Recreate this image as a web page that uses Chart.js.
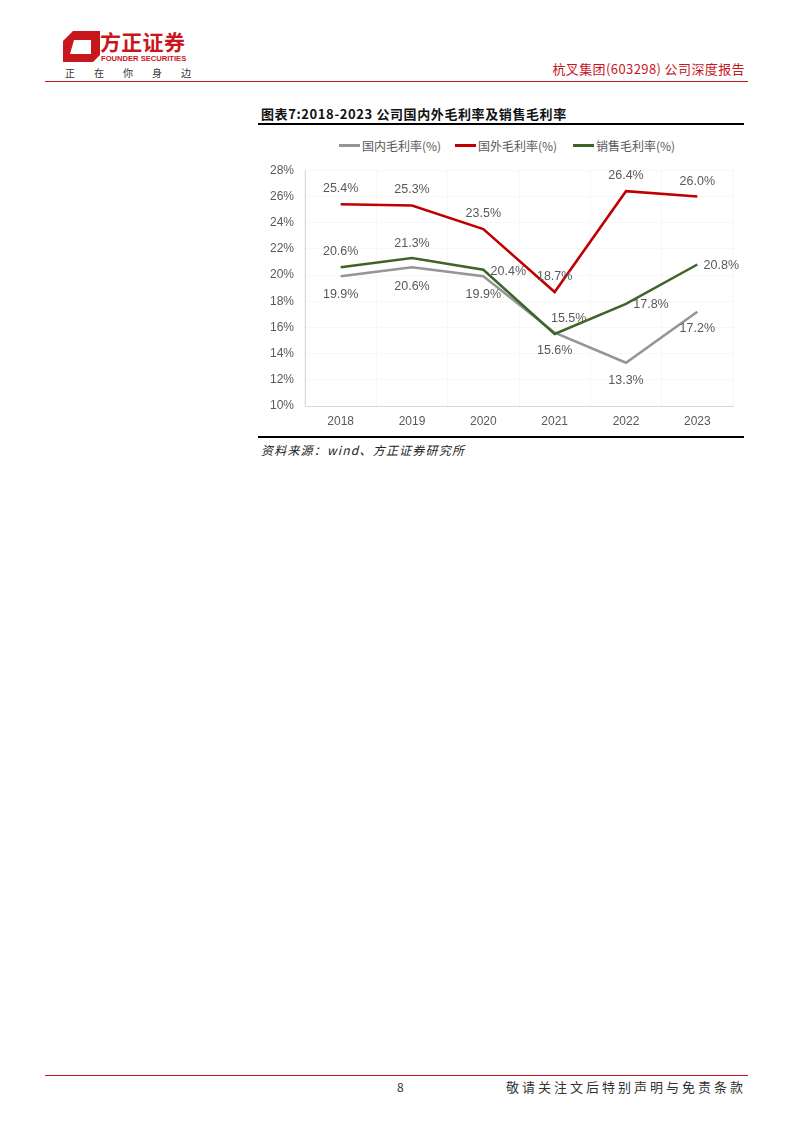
<!DOCTYPE html>
<html>
<head>
<meta charset="utf-8">
<script src="https://cdn.jsdelivr.net/npm/chart.js@4.4.1/dist/chart.umd.min.js"></script>
<style>
  body { margin: 0; background: #fff; font-family: "Noto Sans CJK SC", "Liberation Sans", sans-serif; }
  #page { position: relative; width: 794px; height: 1123px; overflow: hidden; }
  .abs { position: absolute; white-space: nowrap; }
  .lg { position: absolute; top: 137px; display: flex; align-items: center; font-size: 12px; color: #595959; }
  .lg span.sw { display: inline-block; width: 21px; height: 3px; margin-right: 2px; }
</style>
</head>
<body>
<div id="page">
  <!-- header -->
  <svg class="abs" style="left:60px;top:28px" width="44" height="38">
    <polygon points="13,3 40,3 40,27 33,34 3,34 3,13" fill="#c8161d"/>
    <polygon points="14,12 31,12 31,26 10,26" fill="#fff"/>
  </svg>
  <div class="abs" style="left:100px;top:31px;font-size:21px;line-height:21px;height:21px;font-weight:bold;color:#c8161d;letter-spacing:0.3px">方正证券</div>
  <div class="abs" style="left:101px;top:55px;font-size:7.6px;line-height:8px;font-weight:bold;color:#c8161d;font-family:'Liberation Sans'">FOUNDER SECURITIES</div>
  <div class="abs" style="left:65px;top:65px;font-size:10px;color:#333;letter-spacing:19px">正在你身边</div>
  <div class="abs" style="right:49px;top:59px;font-size:13px;color:#c8161d;letter-spacing:0.4px">杭叉集团(603298) 公司深度报告</div>
  <div class="abs" style="left:45px;top:81px;width:703px;height:1px;background:#c8161d"></div>

  <!-- figure title -->
  <div class="abs" style="left:261px;top:104px;font-size:13px;font-weight:bold;color:#111;letter-spacing:0.6px">图表7:2018-2023 公司国内外毛利率及销售毛利率</div>
  <div class="abs" style="left:258px;top:123px;width:486px;height:2px;background:#000"></div>

  <div id="legend"></div>
  <div class="abs" style="left:255px;top:152px;width:495px;height:283px">
    <canvas id="chart"></canvas>
  </div>

  <div class="abs" style="left:258px;top:436px;width:486px;height:2px;background:#000"></div>
  <div class="abs" style="left:261px;top:441px;font-size:12px;font-style:italic;color:#222;letter-spacing:1.2px">资料来源：wind、方正证券研究所</div>

  <!-- footer -->
  <div class="abs" style="left:45px;top:1075px;width:703px;height:1px;background:#c8161d"></div>
  <div class="abs" style="left:397px;top:1078px;font-size:12px;color:#333">8</div>
  <div class="abs" style="right:48px;top:1077px;font-size:13px;color:#333;letter-spacing:3px">敬请关注文后特别声明与免责条款</div>
</div>

<script>
// data
var years = ["2018", "2019", "2020", "2021", "2022", "2023"]
var domestic = [19.9, 20.6, 19.9, 15.6, 13.3, 17.2]
var overseas = [25.4, 25.3, 23.5, 18.7, 26.4, 26.0]
var sales = [20.6, 21.3, 20.4, 15.5, 17.8, 20.8]
var seriesNames = ["国内毛利率(%)", "国外毛利率(%)", "销售毛利率(%)"]
var yTicks = [10, 12, 14, 16, 18, 20, 22, 24, 26, 28]

var colors = ["#959595", "#c00000", "#3f6428"]
var legendLeft = [339, 455, 573]

// label offsets from each point [dx, dy]
var labelOffsets = [
    [[0, 18], [0, 19], [0, 18], [0, 18], [0, 18], [0, 17]],
    [[0, -16], [0, -16], [0, -16], [0, -15], [0, -16], [0, -15]],
    [[0, -16], [0, -14], [25, 2], [14, -15], [25, 1], [24, 1]]
]

// html legend
var legendDiv = document.getElementById("legend")
seriesNames.forEach(function (n, i) {
    var d = document.createElement("div")
    d.className = "lg"
    d.style.left = legendLeft[i] + "px"
    d.innerHTML = '<span class="sw" style="background:' + colors[i] + '"></span>' + n
    legendDiv.appendChild(d)
})

var valueLabels = {
    id: "valueLabels",
    afterDatasetsDraw: function (chart) {
        var ctx = chart.ctx
        ctx.save()
        ctx.font = "12.5px 'Liberation Sans'"
        ctx.fillStyle = "#595959"
        ctx.textAlign = "center"
        ctx.textBaseline = "middle"
        chart.data.datasets.forEach(function (ds, di) {
            var meta = chart.getDatasetMeta(di)
            meta.data.forEach(function (pt, i) {
                var off = labelOffsets[di][i]
                ctx.fillText(ds.data[i].toFixed(1) + "%", pt.x + off[0], pt.y + off[1])
            })
        })
        ctx.restore()
    }
}

function makeDs(i, data, order) {
    return {
        label: seriesNames[i],
        data: data,
        borderColor: colors[i],
        backgroundColor: colors[i],
        borderWidth: 2.5,
        pointRadius: 0,
        tension: 0,
        order: order
    }
}

var chart = new Chart(document.getElementById("chart"), {
    type: "line",
    data: {
        labels: years,
        datasets: [makeDs(0, domestic, 3), makeDs(1, overseas, 1), makeDs(2, sales, 2)]
    },
    options: {
        responsive: true,
        maintainAspectRatio: false,
        animation: false,
        layout: { padding: { top: 0, right: 17, left: 0, bottom: 0 } },
        plugins: {
            legend: { display: false },
            tooltip: { enabled: false }
        },
        scales: {
            x: {
                offset: true,
                grid: { color: "#f7f7f7", drawTicks: false, offset: true },
                border: { color: "#d9d9d9" },
                ticks: { color: "#595959", font: { size: 12, family: "'Liberation Sans'" }, padding: 8 },
                afterFit: function (s) { s.height = 29 }
            },
            y: {
                min: yTicks[0],
                max: yTicks[yTicks.length - 1],
                afterBuildTicks: function (s) { s.ticks = yTicks.map(function (v) { return { value: v } }) },
                grid: { color: "#f7f7f7", drawTicks: false },
                border: { color: "#d9d9d9" },
                ticks: {
                    color: "#595959",
                    font: { size: 12, family: "'Liberation Sans'" },
                    padding: 11,
                    callback: function (v) { return v + "%" }
                },
                afterFit: function (s) { s.width = 50 }
            }
        }
    },
    plugins: [valueLabels]
})
</script>
</body>
</html>
